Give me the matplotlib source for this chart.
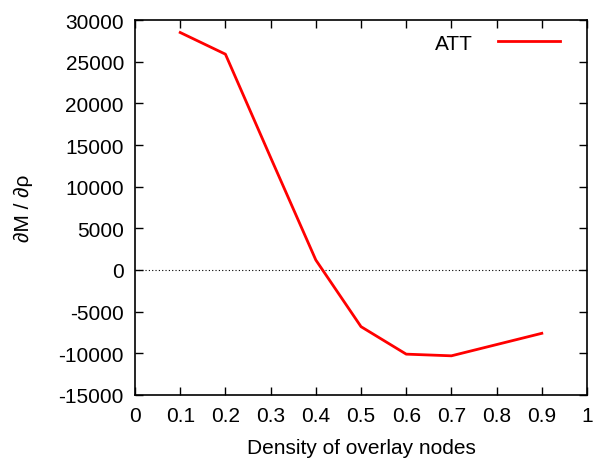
import matplotlib
matplotlib.use("Agg")
import matplotlib.pyplot as plt
import numpy as np

# ATT curve: derivative of M w.r.t. overlay density
density = [0.1, 0.2, 0.3, 0.4, 0.5, 0.6, 0.7, 0.8, 0.9]
dm_drho = [28500, 25900, 13500, 1200, -6800, -10100, -10300, -8950, -7600]

x_ticks = np.round(np.arange(0, 1.01, 0.1), 1)
x_tick_labels = ["0", "0.1", "0.2", "0.3", "0.4", "0.5", "0.6", "0.7", "0.8", "0.9", "1"]
y_ticks = np.arange(-15000, 30001, 5000)

plt.rcParams["font.family"] = ["Liberation Sans", "DejaVu Sans"]
plt.rcParams["axes.unicode_minus"] = False

fig = plt.figure(figsize=(5.98, 4.64), dpi=100)
ax = fig.add_axes([0.2258, 0.1466, 0.7558, 0.8081])

ax.axhline(0, color="black", lw=0.8, ls=(0, (1, 2)))
ax.plot(density, dm_drho, color="#ff0000", lw=2, label="ATT")

ax.set_xlim(0, 1)
ax.set_ylim(-15000, 30000)
ax.set_xticks(x_ticks)
ax.set_xticklabels(x_tick_labels)
ax.set_yticks(y_ticks)
ax.tick_params(direction="in", length=6, width=1, top=True, right=True,
               labelsize=15, pad=8)
for s in ax.spines.values():
    s.set_linewidth(1.2)

ax.set_xlabel("Density of overlay nodes", fontsize=15, labelpad=9)
ax.set_ylabel("∂M / ∂ρ", fontsize=15, labelpad=18)

ax.legend(loc="upper right", bbox_to_anchor=(0.971, 1.0), frameon=False,
          markerfirst=False, fontsize=15, handlelength=3.0, handletextpad=1.2,
          borderaxespad=0.25)

fig.savefig("out.png", dpi=100)
